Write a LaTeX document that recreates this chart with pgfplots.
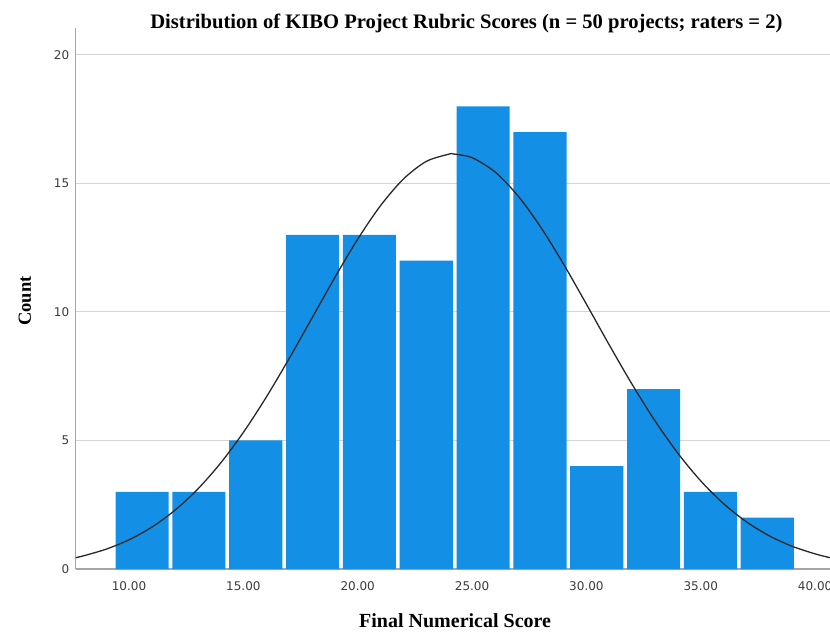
\documentclass[border=0pt]{standalone}
\usepackage{pgfplots}
\pgfplotsset{compat=1.18}
\usepackage{fontspec}
\setmainfont{Liberation Serif}
\newfontfamily\tickfont{DejaVu Sans}
\definecolor{barblue}{RGB}{20,143,230}
\definecolor{axgray}{RGB}{165,165,165}
\definecolor{gridgray}{RGB}{212,212,212}
\definecolor{ticktext}{RGB}{60,60,60}
\definecolor{curve}{RGB}{40,40,40}
\begin{document}
\begin{tikzpicture}
\begin{axis}[
  name=ax,
  scale only axis,
  width=754.3pt, height=541pt,
  xmin=7.67, xmax=40.65, ymin=0, ymax=21.05,
  axis x line=bottom, axis y line=left,
  axis line style={draw=axgray, line width=1.2pt, -},
  xtick={10,15,20,25,30,35,40},
  xticklabels={10.00,15.00,20.00,25.00,30.00,35.00,40.00},
  ytick={0,5,10,15,20},
  major tick length=0pt,
  ymajorgrids,
  grid style={draw=gridgray, line width=1pt},
  /pgf/number format/assume math mode=true,
  tick label style={font=\tickfont\fontsize{12}{14}\selectfont, text=ticktext},
  yticklabel style={xshift=-3pt},
  xticklabel style={yshift=-9pt},
  every axis title shift=0pt,
  title={\bfseries\fontsize{20.6}{24}\selectfont Distribution of KIBO Project Rubric Scores (n = 50 projects; raters = 2)},
  title style={at={(axis description cs:0.518,1)}, anchor=base, yshift=-1pt},
  xlabel={\bfseries\fontsize{20}{24}\selectfont Final Numerical Score},
  xlabel style={at={(axis description cs:0.503,0)}, anchor=base, yshift=-58pt},
  ylabel={\bfseries\fontsize{18.5}{22}\selectfont Count},
  ylabel style={at={(axis description cs:-0.0593,0.495)}, anchor=base, rotate=0},
  clip=false,
]
\addplot[ybar interval, fill=barblue, draw=none, bar interval width=0.935, bar interval shift=0.5]
coordinates {
(9.33,3) (11.815,3) (14.30,5) (16.785,13) (19.27,13) (21.755,12)
(24.24,18) (26.725,17) (29.21,4) (31.695,7) (34.18,3) (36.665,2) (39.15,2)
};
\addplot[smooth, draw=curve, line width=1.3pt] coordinates {
(7.67,0.44) (8,0.510) (9,0.771) (10,1.136) (11,1.630) (12,2.280) (13,3.103)
(14,4.115) (15,5.314) (16,6.683) (17,8.185) (18,9.763) (19,11.342)
(20,12.834) (21,14.141) (22,15.175) (23,15.860) (24,16.144) (24.17,16.15)
(25,16.004) (26,15.451) (27,14.527) (28,13.303) (29,11.864) (30,10.305)
(31,8.716) (32,7.181) (33,5.761) (34,4.502) (35,3.426) (36,2.539)
(37,1.833) (38,1.288) (39,0.882) (40,0.588) (40.65,0.44)
};
\end{axis}
\pgfresetboundingbox
\path[use as bounding box] ([shift={(-75.7pt,-63pt)}]ax.south west) rectangle ([shift={(0pt,28pt)}]ax.north east);
\end{tikzpicture}
\end{document}
